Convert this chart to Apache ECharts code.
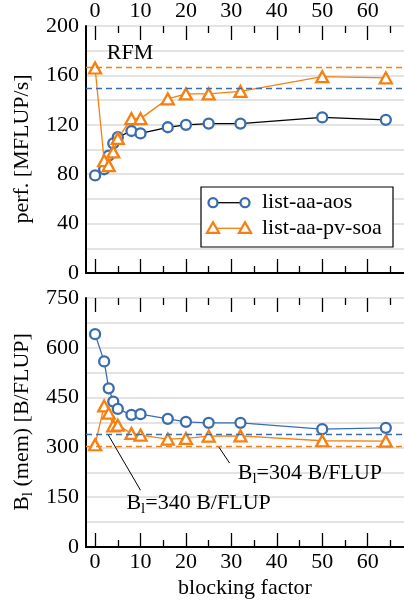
<!DOCTYPE html>
<html>
<head>
<meta charset="utf-8">
<script src="https://cdn.jsdelivr.net/npm/echarts@6/dist/echarts.min.js"></script>
<style>
  html, body { margin: 0; padding: 0; background: #fff; }
  #chart { width: 404px; height: 600px; }
</style>
</head>
<body>
<div id="chart"></div>
<script>
// Blocking factor sweep: performance (top) and memory traffic per update (bottom)
const blockingFactor = [0, 2, 3, 4, 5, 8, 10, 16, 20, 25, 32, 50, 64];
const perfAos = [79, 84, 95, 105, 110, 115, 113, 118, 120, 121, 121, 126, 124];
const perfSoa = [166, 91, 87, 98, 109, 125, 125, 141, 145, 145, 147, 159, 158];
const memAos = [641, 559, 478, 438, 416, 398, 400, 386, 377, 374, 374, 355, 359];
const memSoa = [308, 425, 403, 365, 367, 342, 337, 325, 327, 334, 335, 320, 319];

// Roofline model limits and code balance reference values
const perfRfmSoa = 167;
const perfRfmAos = 150;
const memBalanceSoa = 304;
const memBalanceAos = 340;

const xMajorTicks = [0, 10, 20, 30, 40, 50, 60];
const xMinorTicks = [5, 15, 25, 35, 45, 55, 65];
const perfLabels = [0, 40, 80, 120, 160, 200];
const memLabels = [0, 150, 300, 450, 600, 750];

const names = ['list-aa-aos', 'list-aa-pv-soa'];

const BLUE = '#3a6db0';
const ORANGE = '#f77f0f';
const FONT = 'Liberation Serif';
const FS = 22;

const zip = (xs, ys) => xs.map((x, i) => [x, ys[i]]);

const chart = echarts.init(document.getElementById('chart'), null, { renderer: 'canvas' });

const gridBox = [
  { left: 86, top: 25, width: 329, height: 248 },
  { left: 86, top: 298, width: 329, height: 249 }
];

function xAxes(gi) {
  const common = {
    type: 'value', gridIndex: gi, min: -2, max: 68,
    splitLine: { show: false },
    axisLabel: { show: false }
  };
  const tickStyle = { color: '#000', width: 1.3 };
  const lbl = (show) => ({
    show: show, customValues: xMajorTicks, color: '#000',
    fontFamily: FONT, fontSize: FS, margin: 4
  });
  return [
    Object.assign({}, common, {
      position: 'bottom',
      axisLine: { show: true, onZero: false, lineStyle: { color: '#000', width: 2 } },
      axisTick: { show: true, inside: true, length: 14, customValues: xMajorTicks, lineStyle: tickStyle },
      axisLabel: lbl(gi === 1),
      name: gi === 1 ? 'blocking factor' : '',
      nameLocation: 'middle', nameGap: 30,
      nameTextStyle: { color: '#000', fontFamily: FONT, fontSize: FS }
    }),
    Object.assign({}, common, {
      position: 'bottom',
      axisLine: { show: false, onZero: false },
      axisTick: { show: true, inside: true, length: 7, customValues: xMinorTicks, lineStyle: tickStyle }
    }),
    Object.assign({}, common, {
      position: 'top',
      axisLine: { show: false, onZero: false },
      axisTick: { show: true, inside: true, length: 14, customValues: xMajorTicks, lineStyle: tickStyle },
      axisLabel: lbl(gi === 0)
    }),
    Object.assign({}, common, {
      position: 'top',
      axisLine: { show: false, onZero: false },
      axisTick: { show: true, inside: true, length: 7, customValues: xMinorTicks, lineStyle: tickStyle }
    })
  ];
}

function yAxis(gi, max, step, labels) {
  return {
    type: 'value', gridIndex: gi, min: 0, max: max, interval: step,
    axisLine: { show: true, onZero: false, lineStyle: { color: '#000', width: 2 } },
    axisTick: { show: false },
    splitLine: { show: true, lineStyle: { color: '#dadada', width: 1.5 } },
    axisLabel: {
      color: '#000', fontFamily: FONT, fontSize: FS, margin: 7,
      formatter: (v) => (labels.indexOf(v) >= 0 ? String(v) : '')
    }
  };
}

function refLine(value, color) {
  return {
    silent: true, symbol: 'none', label: { show: false },
    lineStyle: { color: color, type: [6, 4], width: 1.3 },
    data: [{ yAxis: value }]
  };
}

const circleStyle = { color: '#fff', borderColor: BLUE, borderWidth: 2.3 };
const triStyle = { color: '#fff', borderColor: ORANGE, borderWidth: 2.3 };

const series = [
  {
    name: names[0], type: 'line', xAxisIndex: 0, yAxisIndex: 0,
    data: zip(blockingFactor, perfAos),
    symbol: 'circle', symbolSize: 10, itemStyle: circleStyle,
    lineStyle: { color: '#000', width: 1.3 },
    markLine: refLine(perfRfmAos, BLUE), z: 3
  },
  {
    name: names[1], type: 'line', xAxisIndex: 0, yAxisIndex: 0,
    data: zip(blockingFactor, perfSoa),
    symbol: 'triangle', symbolSize: [12, 11], itemStyle: triStyle,
    lineStyle: { color: ORANGE, width: 1.3 },
    markLine: refLine(perfRfmSoa, ORANGE), z: 4
  },
  {
    name: names[0], type: 'line', xAxisIndex: 4, yAxisIndex: 1,
    data: zip(blockingFactor, memAos),
    symbol: 'circle', symbolSize: 10, itemStyle: circleStyle,
    lineStyle: { color: BLUE, width: 1.3 },
    markLine: refLine(memBalanceAos, BLUE), z: 3
  },
  {
    name: names[1], type: 'line', xAxisIndex: 4, yAxisIndex: 1,
    data: zip(blockingFactor, memSoa),
    symbol: 'triangle', symbolSize: [12, 11], itemStyle: triStyle,
    lineStyle: { color: ORANGE, width: 1.3 },
    markLine: refLine(memBalanceSoa, ORANGE), z: 4
  }
];

chart.setOption({
  animation: false,
  backgroundColor: '#fff',
  grid: gridBox.map((g) => Object.assign({ containLabel: false }, g)),
  xAxis: xAxes(0).concat(xAxes(1)),
  yAxis: [yAxis(0, 200, 20, perfLabels), yAxis(1, 750, 75, memLabels)],
  series: series
});

// Annotations placed in data space of each panel
const px = (gi, x, y) => chart.convertToPixel({ gridIndex: gi }, [x, y]);

const subRich = {
  n: { fontFamily: FONT, fontSize: FS, fill: '#000' },
  s: { fontFamily: FONT, fontSize: 15, fill: '#000', padding: [12, 0, 0, 0] }
};

const rfm = px(0, 7.7, 178);
const lead304a = px(1, 27.1, memBalanceSoa);
const lead304b = px(1, 29.6, 253);
const lead340a = px(1, 2.8, memBalanceAos);
const lead340b = px(1, 10, 171);
const txt304 = px(1, 31.4, 222);
const txt340 = px(1, 6.9, 132);

// Legend box (line with markers at both ends)
const lg = { x: 201, y: 187, w: 192, h: 60 };
const legendRows = [
  { y: 202.7, line: '#000', marker: 'circle', text: names[0] },
  { y: 228.3, line: ORANGE, marker: 'triangle', text: names[1] }
];
const legendEls = [
  { type: 'rect', shape: { x: lg.x, y: lg.y, width: lg.w, height: lg.h },
    style: { fill: '#fff', stroke: '#000', lineWidth: 1.2 }, z: 50 }
];
legendRows.forEach((r) => {
  legendEls.push({ type: 'line', shape: { x1: 213, y1: r.y, x2: 245, y2: r.y },
    style: { stroke: r.line, lineWidth: 1.3 }, z: 51 });
  [213, 245].forEach((cx) => {
    if (r.marker === 'circle') {
      legendEls.push({ type: 'circle', shape: { cx: cx, cy: r.y, r: 4.5 },
        style: { fill: '#fff', stroke: BLUE, lineWidth: 2.3 }, z: 52 });
    } else {
      legendEls.push({ type: 'polygon',
        shape: { points: [[cx, r.y - 6], [cx + 6, r.y + 4.5], [cx - 6, r.y + 4.5]] },
        style: { fill: '#fff', stroke: ORANGE, lineWidth: 2.3 }, z: 52 });
    }
  });
  legendEls.push({ type: 'text', x: 262, y: r.y,
    style: { text: r.text, fontFamily: FONT, fontSize: FS, fill: '#000',
      textAlign: 'left', textVerticalAlign: 'middle' }, z: 52 });
});

chart.setOption({
  graphic: [
    { type: 'text', x: 22, y: 149, rotation: Math.PI / 2,
      style: { text: 'perf. [MFLUP/s]', fontFamily: FONT, fontSize: FS, fill: '#000',
        textAlign: 'center', textVerticalAlign: 'middle' } },
    { type: 'text', x: 22, y: 422, rotation: Math.PI / 2,
      style: { text: '{n|B}{s|l}{n| (mem) [B/FLUP]}', rich: subRich,
        textAlign: 'center', textVerticalAlign: 'middle' } },
    { type: 'text', x: rfm[0], y: rfm[1],
      style: { text: 'RFM', fontFamily: FONT, fontSize: FS, fill: '#000',
        textAlign: 'center', textVerticalAlign: 'middle' } },
    { type: 'line', shape: { x1: lead304a[0], y1: lead304a[1], x2: lead304b[0], y2: lead304b[1] },
      style: { stroke: '#000', lineWidth: 1 } },
    { type: 'line', shape: { x1: lead340a[0], y1: lead340a[1], x2: lead340b[0], y2: lead340b[1] },
      style: { stroke: '#000', lineWidth: 1 } },
    { type: 'text', x: txt304[0], y: txt304[1],
      style: { text: '{n|B}{s|l}{n|=304 B/FLUP}', rich: subRich,
        textAlign: 'left', textVerticalAlign: 'middle' } },
    { type: 'text', x: txt340[0], y: txt340[1],
      style: { text: '{n|B}{s|l}{n|=340 B/FLUP}', rich: subRich,
        textAlign: 'left', textVerticalAlign: 'middle' } }
  ].concat(legendEls)
});
</script>
</body>
</html>
